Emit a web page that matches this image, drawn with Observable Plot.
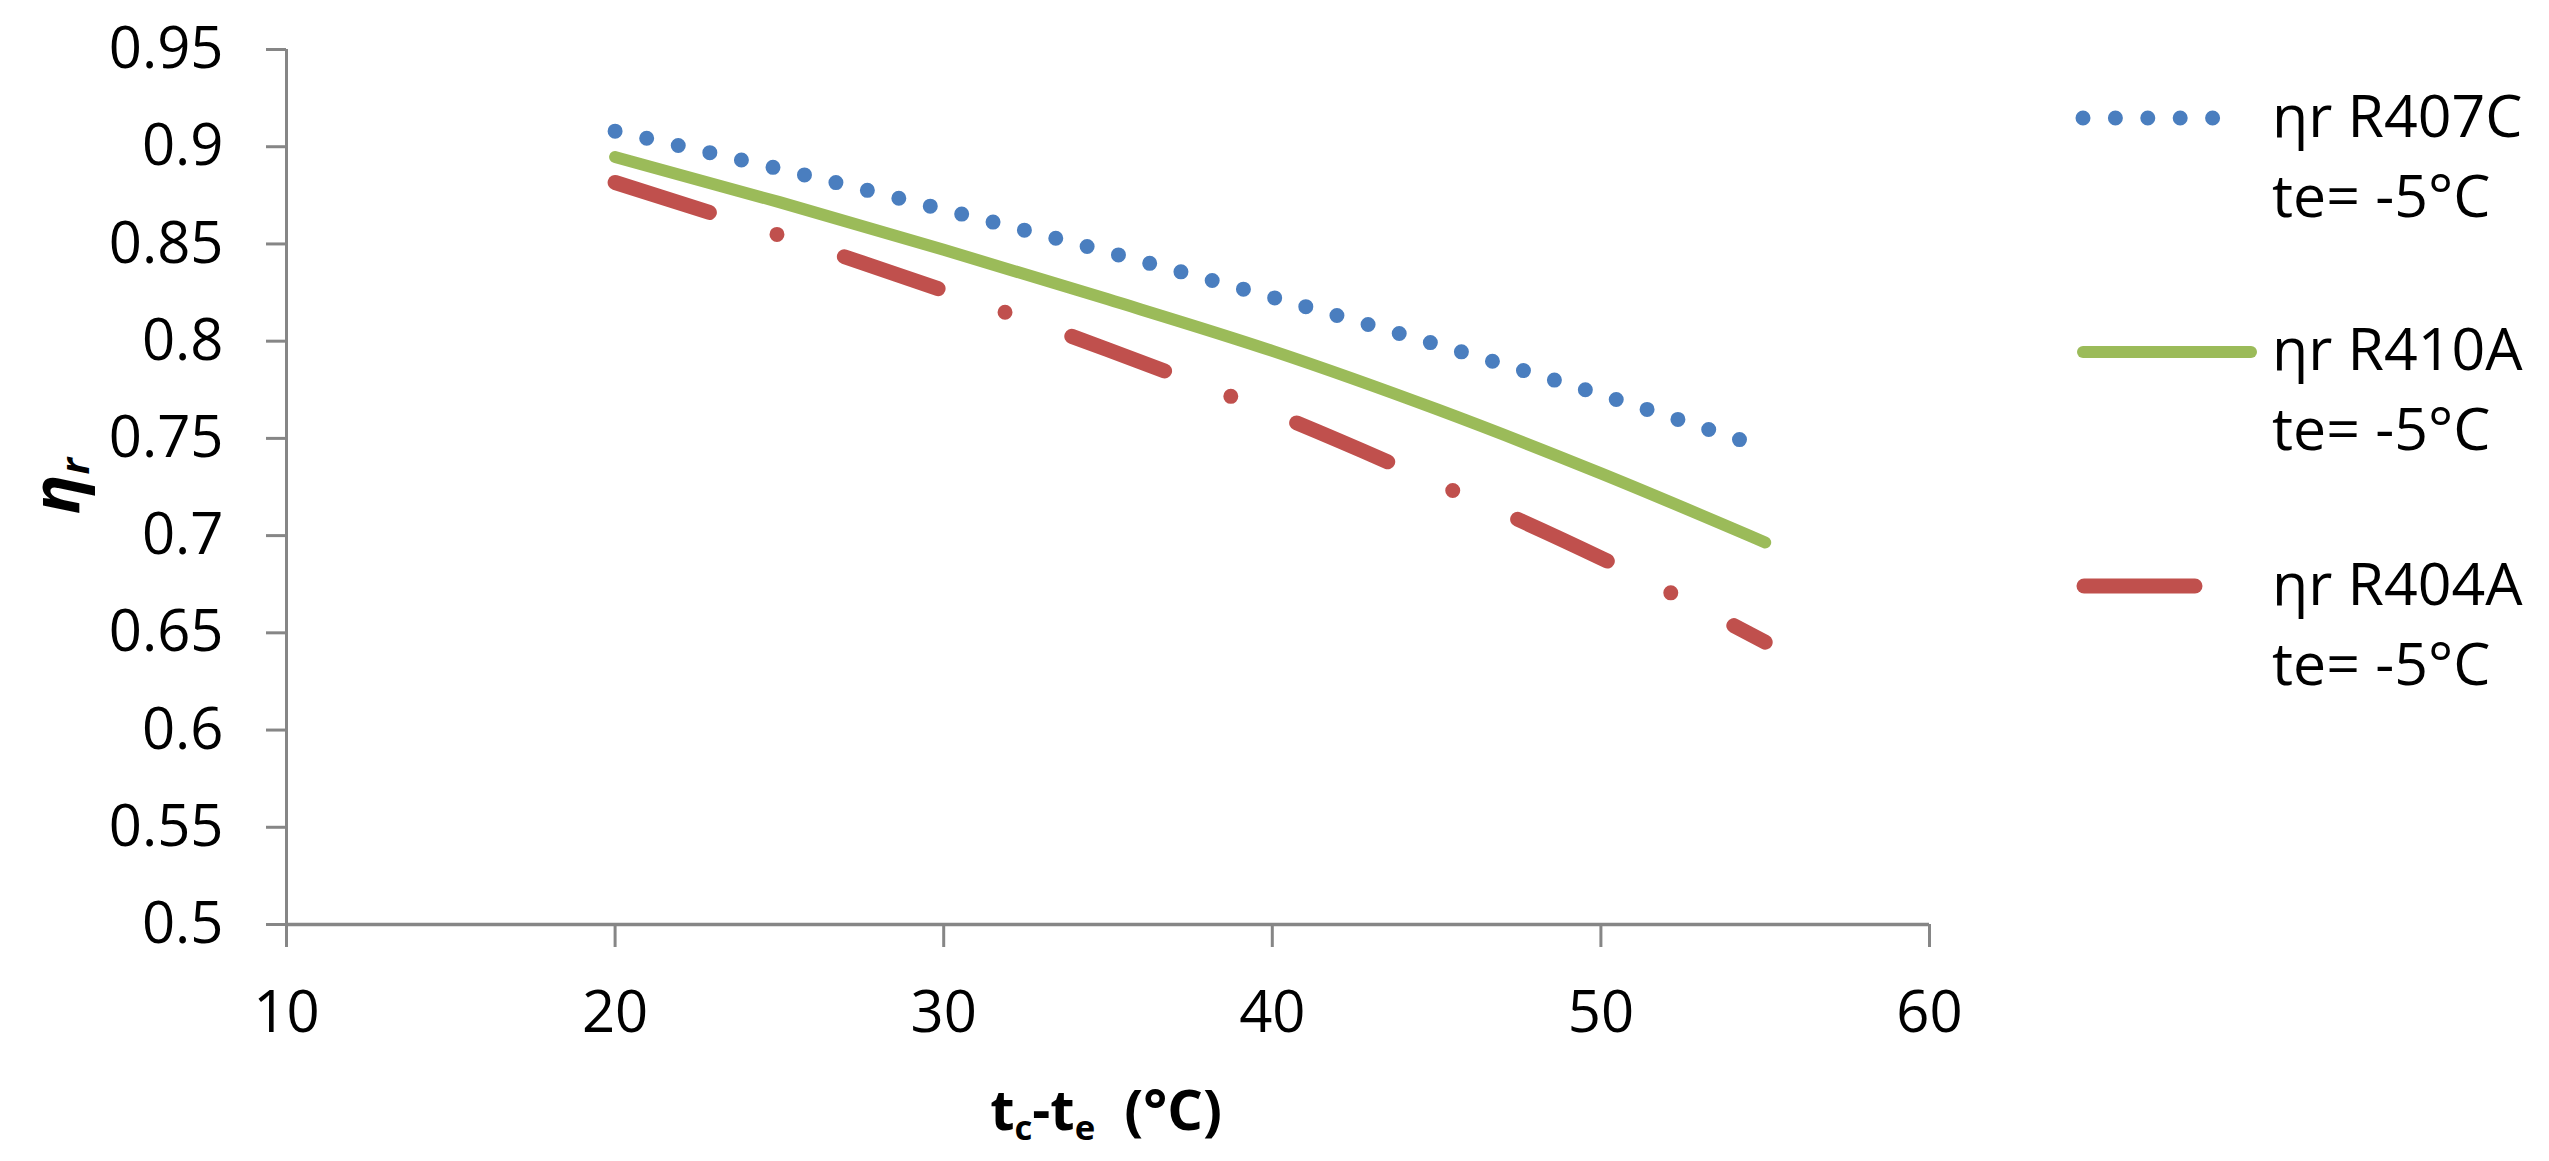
<!DOCTYPE html>
<html>
<head>
<meta charset="utf-8">
<script src="https://cdn.jsdelivr.net/npm/d3@7"></script>
<script src="https://cdn.jsdelivr.net/npm/@observablehq/plot@0.6"></script>
<style>
html, body { margin: 0; padding: 0; background: #fff; }
#wrap { position: relative; width: 2549px; height: 1161px; font-family: "Open Sans", sans-serif; color: #000; overflow: hidden; }
#wrap > svg.chart { position: absolute; left: 0; top: 0; }
.xlabel { position: absolute; left: 806px; top: 1080px; width: 600px; text-align: center; font-weight: bold; font-size: 56px; line-height: 1; white-space: pre; }
.xlabel sub { font-size: 0.62em; vertical-align: -0.3em; line-height: 0; }
.ylabel { position: absolute; left: 53px; top: 486px; transform: translate(-50%, -50%) rotate(-90deg); font-weight: bold; font-style: italic; font-size: 66px; line-height: 1; white-space: nowrap; }
.ylabel sub { font-size: 0.6em; vertical-align: -0.25em; line-height: 0; }
.legend-text { position: absolute; left: 2272px; font-size: 59px; line-height: 80px; white-space: nowrap; }
#legendSvg { position: absolute; left: 0; top: 0; pointer-events: none; }
</style>
</head>
<body>
<div id="wrap"></div>
<script>
// ---- data ----
const xValues = [20, 25, 30, 35, 40, 45, 50, 55];
const r407cValues = [0.908, 0.8886, 0.8677, 0.8458, 0.8226, 0.7983, 0.7725, 0.745];
const r410aValues = [0.8947, 0.8715, 0.847, 0.8215, 0.795, 0.765, 0.732, 0.6965];
const r404aValues = [0.8816, 0.8545, 0.826, 0.7956, 0.7631, 0.7269, 0.6885, 0.6452];
const seriesNames = ["ηr R407C", "ηr R410A", "ηr R404A"];
const seriesCondition = "te= -5°C";
const xTicks = [10, 20, 30, 40, 50, 60];
const yTicks = [0.5, 0.55, 0.6, 0.65, 0.7, 0.75, 0.8, 0.85, 0.9, 0.95];

// ---- styles ----
const seriesColors = ["#4A7EBF", "#9BBB59", "#C0504D"];
const seriesStyles = [
  { strokeWidth: 15, dash: "0,32.4", legendDash: "0,32.4", legendFrom: 2083, legendTo: 2245 },
  { strokeWidth: 12, dash: null, legendDash: null, legendFrom: 2083, legendTo: 2251 },
  { strokeWidth: 15, dash: "99,71,0,71", legendDash: null, legendFrom: 2084, legendTo: 2195 }
];
const axisGray = "#868686";
const W = 2549, H = 1161;

const seriesValues = [r407cValues, r410aValues, r404aValues];
const table = seriesValues.flatMap((vals, i) =>
  xValues.map((x, j) => ({ x, y: vals[j], series: seriesNames[i] }))
);

const chart = Plot.plot({
  width: W,
  height: H,
  marginLeft: 286,
  marginRight: 620,
  marginTop: 49,
  marginBottom: 237,
  style: { fontFamily: "'Open Sans', sans-serif", background: "#fff", overflow: "visible" },
  x: { domain: [10, 60] },
  y: { domain: [0.5, 0.95] },
  marks: [
    Plot.axisX(xTicks, { tickSize: 23, tickPadding: 43, stroke: axisGray, strokeWidth: 3, fill: "#000", fontSize: 58, label: null }),
    Plot.axisY(yTicks, { tickSize: 20, tickPadding: 43, stroke: axisGray, strokeWidth: 3, fill: "#000", fontSize: 58, label: null, tickFormat: d => String(d) }),
    Plot.ruleY([0.5], { stroke: axisGray, strokeWidth: 3.5 }),
    Plot.ruleX([10], { stroke: axisGray, strokeWidth: 3 }),
    ...seriesNames.map((name, i) => Plot.line(table.filter(d => d.series === name), {
      x: "x", y: "y",
      stroke: seriesColors[i],
      strokeWidth: seriesStyles[i].strokeWidth,
      ...(seriesStyles[i].dash ? { strokeDasharray: seriesStyles[i].dash } : {}),
      strokeLinecap: "round",
      strokeLinejoin: "round",
      curve: "monotone-x"
    }))
  ]
});
chart.classList.add("chart");
const wrap = document.getElementById("wrap");
wrap.appendChild(chart);

// ---- axis titles ----
const xl = document.createElement("div");
xl.className = "xlabel";
xl.innerHTML = "t<sub>c</sub>-t<sub>e</sub>  (°C)";
wrap.appendChild(xl);

const yl = document.createElement("div");
yl.className = "ylabel";
yl.innerHTML = "η<sub>r</sub>";
wrap.appendChild(yl);

// ---- legend ----
const legendSampleY = [118, 352, 586];
const legendTextTop = [74, 307, 542];
const lsvg = d3.select(wrap).append("svg").attr("id", "legendSvg").attr("width", W).attr("height", H);
seriesNames.forEach((name, i) => {
  const st = seriesStyles[i];
  const p = lsvg.append("line")
    .attr("x1", st.legendFrom).attr("x2", st.legendTo)
    .attr("y1", legendSampleY[i]).attr("y2", legendSampleY[i])
    .attr("stroke", seriesColors[i])
    .attr("stroke-width", st.strokeWidth)
    .attr("stroke-linecap", "round");
  if (st.legendDash) p.attr("stroke-dasharray", st.legendDash);
  const t = document.createElement("div");
  t.className = "legend-text";
  t.style.top = legendTextTop[i] + "px";
  t.innerHTML = name + "<br>" + seriesCondition;
  wrap.appendChild(t);
});
</script>
</body>
</html>
